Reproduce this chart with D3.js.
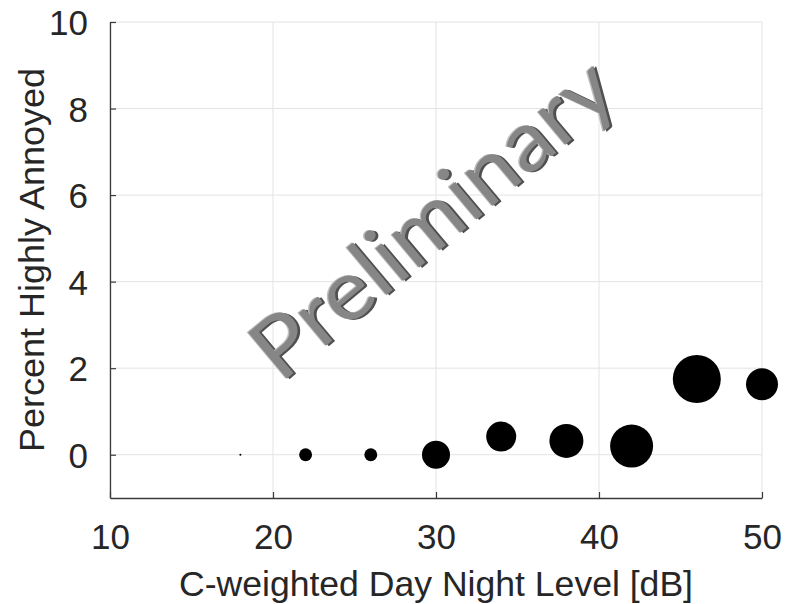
<!DOCTYPE html>
<html>
<head>
<meta charset="utf-8">
<script src="https://cdn.jsdelivr.net/npm/d3@7"></script>
<style>
  body { margin: 0; background: #fff; }
  text { font-family: 'Liberation Sans', Arial, sans-serif; }
</style>
</head>
<body>
<div id="chart"></div>
<script>
// C-weighted DNL bins, percent highly annoyed, and respondents per bin (marker area)
const levels = [18, 22, 26, 30, 34, 38, 42, 46, 50]
const percentHA = [0, 0, 0, 0, 0.42, 0.32, 0.2, 1.75, 1.63]
const respondents = [1, 42, 42, 196, 225, 289, 462, 576, 256]
const xTicks = [10, 20, 30, 40, 50]
const yTicks = [0, 2, 4, 6, 8, 10]

const width = 790
const height = 604
const margin = {top: 22, right: 28, bottom: 106, left: 110}
const innerW = width - margin.left - margin.right
const innerH = height - margin.top - margin.bottom

const svg = d3.select('#chart').append('svg')
    .attr('width', width)
    .attr('height', height)

const plot = svg.append('g')
    .attr('transform', `translate(${margin.left}, ${margin.top})`)

const x = d3.scaleLinear().domain([10, 50]).range([0, innerW])
const y = d3.scaleLinear().domain([-1, 10]).range([innerH, 0])
const r = d3.scaleSqrt().domain([0, d3.max(respondents)]).range([0, 24])

// grid
plot.append('g')
    .selectAll('line')
    .data(xTicks)
    .enter().append('line')
    .attr('x1', d => x(d)).attr('x2', d => x(d))
    .attr('y1', 0).attr('y2', innerH)
    .attr('stroke', '#e3e3e3')
    .attr('stroke-width', 1)

plot.append('g')
    .selectAll('line')
    .data(yTicks)
    .enter().append('line')
    .attr('x1', 0).attr('x2', innerW)
    .attr('y1', d => y(d)).attr('y2', d => y(d))
    .attr('stroke', '#e3e3e3')
    .attr('stroke-width', 1)

// axes (ticks point inward like matlab)
const xAxis = plot.append('g')
    .attr('transform', `translate(0, ${innerH})`)
    .call(d3.axisBottom(x).tickValues(xTicks).tickSizeInner(-6).tickSizeOuter(0).tickPadding(20))
const yAxis = plot.append('g')
    .call(d3.axisLeft(y).tickValues(yTicks).tickSizeInner(-6).tickSizeOuter(0).tickPadding(22))

;[xAxis, yAxis].forEach(ax => {
    ax.select('.domain').attr('stroke', '#3a3a3a').attr('stroke-width', 1.3)
    ax.selectAll('.tick line').attr('stroke', '#3a3a3a').attr('stroke-width', 1.2)
    ax.selectAll('.tick text')
        .attr('fill', '#262626')
        .style('font-size', '35px')
        .style('font-family', "'Liberation Sans', Arial, sans-serif")
})
xAxis.selectAll('.tick text').attr('y', 0).attr('dy', 0)
    .attr('transform', `translate(0, ${549 - margin.top - innerH})`)
yAxis.selectAll('.tick text').attr('dy', '0.36em')

// watermark, faked bevel with offset layers
const wm = plot.append('g')
    .attr('transform', `translate(${430 - margin.left}, ${216 - margin.top}) rotate(-40)`)
const wmText = 'Preliminary'
const wmLayers = [
    {dx: 1.8, dy: 2.2, fill: '#505050'},
    {dx: -1, dy: -1, fill: '#bdbdbd'},
    {dx: 0, dy: 0, fill: '#868686'}
]
wm.selectAll('text')
    .data(wmLayers)
    .enter().append('text')
    .attr('x', d => d.dx).attr('y', d => d.dy)
    .attr('text-anchor', 'middle')
    .attr('dominant-baseline', 'central')
    .attr('textLength', 445)
    .attr('lengthAdjust', 'spacingAndGlyphs')
    .style('font-family', "Lato, 'Open Sans', sans-serif")
    .style('font-size', '84px')
    .attr('fill', d => d.fill)
    .text(wmText)

// points
const points = levels.map((d, i) => ({level: d, pct: percentHA[i], n: respondents[i]}))
plot.append('g')
    .selectAll('circle')
    .data(points)
    .enter().append('circle')
    .attr('cx', d => x(d.level))
    .attr('cy', d => y(d.pct))
    .attr('r', d => Math.max(r(d.n), 0.8))
    .attr('fill', '#000')

// labels
svg.append('text')
    .attr('x', margin.left + innerW / 2)
    .attr('y', 596)
    .attr('text-anchor', 'middle')
    .attr('textLength', 514)
    .attr('lengthAdjust', 'spacingAndGlyphs')
    .attr('fill', '#262626')
    .style('font-size', '35px')
    .text('C-weighted Day Night Level [dB]')

svg.append('text')
    .attr('transform', `translate(44, 260) rotate(-90)`)
    .attr('text-anchor', 'middle')
    .attr('textLength', 384)
    .attr('lengthAdjust', 'spacingAndGlyphs')
    .attr('fill', '#262626')
    .style('font-size', '35px')
    .text('Percent Highly Annoyed')
</script>
</body>
</html>
